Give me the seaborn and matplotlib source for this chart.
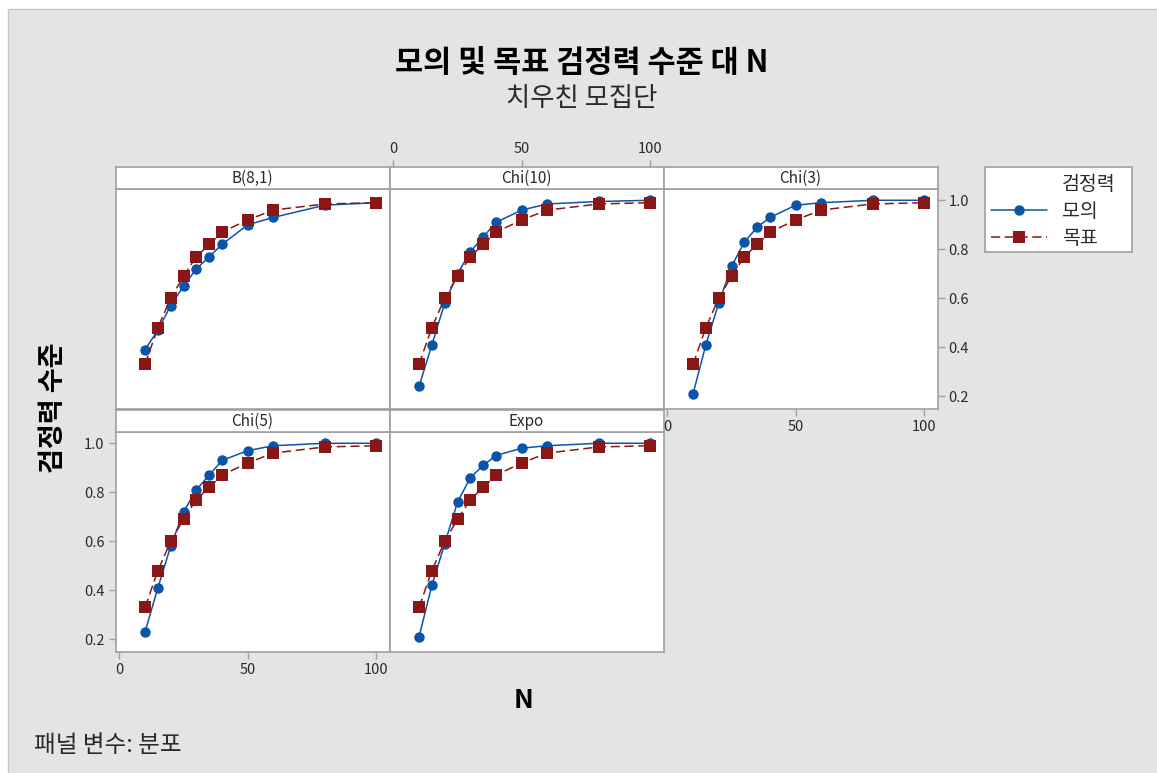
import numpy as np
import pandas as pd
import matplotlib
matplotlib.use("Agg")
import matplotlib.pyplot as plt
import seaborn as sns
from matplotlib.patches import Rectangle
from matplotlib.lines import Line2D

# ---------------- data ----------------
N_values = [10, 15, 20, 25, 30, 35, 40, 50, 60, 80, 100]
target_power = [0.33, 0.48, 0.60, 0.69, 0.77, 0.82, 0.87, 0.92, 0.96, 0.985, 0.99]
sim_B81 = [0.39, 0.47, 0.57, 0.65, 0.72, 0.77, 0.82, 0.90, 0.93, 0.98, 0.99]
sim_Chi10 = [0.24, 0.41, 0.58, 0.70, 0.79, 0.85, 0.91, 0.96, 0.985, 0.995, 1.00]
sim_Chi3 = [0.21, 0.41, 0.58, 0.73, 0.83, 0.89, 0.93, 0.98, 0.99, 1.00, 1.00]
sim_Chi5 = [0.23, 0.41, 0.58, 0.72, 0.81, 0.87, 0.93, 0.97, 0.99, 1.00, 1.00]
sim_Expo = [0.21, 0.42, 0.59, 0.76, 0.86, 0.91, 0.95, 0.98, 0.99, 1.00, 1.00]
panel_names = ["B(8,1)", "Chi(10)", "Chi(3)", "Chi(5)", "Expo"]
sim_series = [sim_B81, sim_Chi10, sim_Chi3, sim_Chi5, sim_Expo]
type_labels = ["모의", "목표"]
x_ticks = [0, 50, 100]
y_ticks = [0.2, 0.4, 0.6, 0.8, 1.0]

rows = []
for name, sim in zip(panel_names, sim_series):
    for n, s, t in zip(N_values, sim, target_power):
        rows.append({"분포": name, "N": n, "검정력": type_labels[0], "power": s})
        rows.append({"분포": name, "N": n, "검정력": type_labels[1], "power": t})
df = pd.DataFrame(rows)

# ---------------- style ----------------
sns.set_theme(style="white")
plt.rcParams["font.family"] = ["Noto Sans CJK KR", "DejaVu Sans"]

BLUE = "#0a55a8"
RED = "#8b1616"
GRID_C = "#a0a0a0"
TXT = "#2a2a2a"

W, H = 1157, 773
fig = plt.figure(figsize=(W / 100, H / 100), dpi=100)
fig.patch.set_facecolor("white")
fig.patches.append(Rectangle((7.5 / W, -0.1), 1.2, 1.1 - 9 / H, transform=fig.transFigure,
                             facecolor="#e4e4e4", edgecolor="#c6c6c6", lw=1, zorder=-10))


def rect(x0, y0, x1, y1):
    return [x0 / W, 1 - y1 / H, (x1 - x0) / W, (y1 - y0) / H]


cols = [115.5, 389.5, 663.5, 937.5]
row_geo = [(167, 189, 409), (410, 432, 652)]
layout = {"B(8,1)": (0, 0), "Chi(10)": (0, 1), "Chi(3)": (0, 2), "Chi(5)": (1, 0), "Expo": (1, 1)}

order = ["Chi(5)", "Expo", "B(8,1)", "Chi(10)", "Chi(3)"]
tick_kw = dict(direction="out", length=5, width=1, color=GRID_C, labelsize=10.5,
               labelcolor=TXT, pad=3)

for name in order:
    r, c = layout[name]
    s0, p0, p1 = row_geo[r]
    x0, x1 = cols[c], cols[c + 1]
    ax = fig.add_axes(rect(x0, p0, x1, p1))
    sax = fig.add_axes(rect(x0, s0, x1, p0))
    sub = df[df["분포"] == name]
    sns.lineplot(data=sub, x="N", y="power", hue="검정력", style="검정력",
                 hue_order=type_labels, style_order=type_labels,
                 palette={type_labels[0]: BLUE, type_labels[1]: RED},
                 markers={type_labels[0]: "o", type_labels[1]: "s"},
                 dashes={type_labels[0]: "", type_labels[1]: (6, 3)},
                 linewidth=1.1, markersize=7.5, markeredgewidth=0,
                 legend=False, ax=ax)
    for ln in ax.lines:
        if ln.get_marker() == "s":
            ln.set_markersize(8.8)
    ax.set_xlim(-1.5, 105.2)
    ax.set_ylim(0.148, 1.046)
    ax.set_xticks(x_ticks)
    ax.set_yticks(y_ticks)
    ax.set_yticklabels([f"{v:.1f}" for v in y_ticks])
    ax.set_xlabel("")
    ax.set_ylabel("")
    ax.set_facecolor("white")
    for sp in ax.spines.values():
        sp.set_color(GRID_C)
        sp.set_linewidth(1.2)
    ax.tick_params(**tick_kw)
    ax.tick_params(left=False, bottom=False, right=False, top=False,
                   labelleft=False, labelbottom=False, labelright=False, labeltop=False)
    if name == "Chi(5)":
        ax.tick_params(left=True, labelleft=True, bottom=True, labelbottom=True)
    if name == "Chi(3)":
        ax.yaxis.set_ticks_position("right")
        ax.tick_params(right=True, labelright=True, left=False, labelleft=False,
                       bottom=True, labelbottom=True)

    # strip
    sax.set_xlim(-1.5, 105.2)
    sax.set_ylim(0, 1)
    sax.set_facecolor("white")
    sax.set_yticks([])
    sax.set_xticks(x_ticks)
    for sp in sax.spines.values():
        sp.set_color(GRID_C)
        sp.set_linewidth(1.2)
    sax.tick_params(**tick_kw)
    sax.tick_params(left=False, bottom=False, top=False, labelbottom=False, labeltop=False)
    if name == "Chi(10)":
        sax.xaxis.set_ticks_position("top")
        sax.tick_params(top=True, labeltop=True, bottom=False, labelbottom=False)
    sax.text(0.5, 0.5, name, transform=sax.transAxes, ha="center", va="center",
             fontsize=11, color=TXT)

# legend box + title + entries
fig.patches.append(Rectangle((985 / W, 1 - 252 / H), 147 / W, 85 / H, transform=fig.transFigure,
                             facecolor="white", edgecolor=GRID_C, lw=1.2, zorder=5))
fig.text(1089 / W, 1 - 184 / H, "검정력", ha="center", va="center", fontsize=14,
         color=TXT, zorder=6)
handles = [
    Line2D([], [], color=BLUE, lw=1.1, marker="o", markersize=7.5, markeredgewidth=0),
    Line2D([], [], color=RED, lw=1.1, marker="s", markersize=8.8, markeredgewidth=0,
           dashes=(6, 3)),
]
leg = fig.legend(handles, type_labels, loc="center left",
                 bbox_to_anchor=(991 / W, 1 - 225 / H), frameon=False,
                 fontsize=14, labelspacing=0.3, handlelength=2.9,
                 handletextpad=0.75, borderpad=0, borderaxespad=0)
leg.set_zorder(7)
for t in leg.get_texts():
    t.set_color(TXT)

# titles and labels
fig.text(582 / W, 1 - 63 / H, "모의 및 목표 검정력 수준 대 N", ha="center", va="center",
         fontsize=22, fontweight="bold", color="black")
fig.text(582 / W, 1 - 98 / H, "치우친 모집단", ha="center", va="center",
         fontsize=19, color=TXT)
fig.text(53 / W, 1 - 408 / H, "검정력 수준", ha="center", va="center", rotation=90,
         fontsize=19.5, fontweight="bold", color="black")
fig.text(524 / W, 1 - 700 / H, "N", ha="center", va="center",
         fontsize=19, fontweight="bold", color="black")
fig.text(34 / W, 1 - 746 / H, "패널 변수: 분포", ha="left", va="center",
         fontsize=17, style="italic", color=TXT)

fig.savefig("out.png", dpi=100)
